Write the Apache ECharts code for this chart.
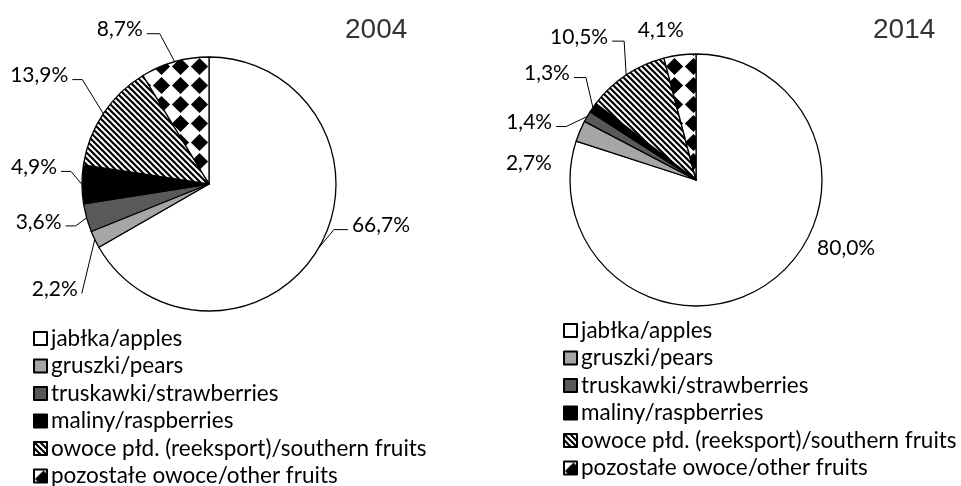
<!DOCTYPE html>
<html>
<head>
<meta charset="utf-8">
<script src="https://cdn.jsdelivr.net/npm/echarts@6/dist/echarts.min.js"></script>
<style>html,body{margin:0;padding:0;background:#fff;}#c{width:961px;height:486px;}</style>
</head>
<body>
<div id="c"></div>
<script>
const categories = ['jabłka/apples', 'gruszki/pears', 'truskawki/strawberries', 'maliny/raspberries', 'owoce płd. (reeksport)/southern fruits', 'pozostałe owoce/other fruits'];
const values2004 = [66.7, 2.2, 3.6, 4.9, 13.9, 8.7];
const values2014 = [80.0, 2.7, 1.4, 1.3, 10.5, 4.1];
const years = ['2004', '2014'];

function stripes() {
  const s = 6, c = document.createElement('canvas');
  c.width = s; c.height = s;
  const g = c.getContext('2d');
  g.fillStyle = '#fff'; g.fillRect(0, 0, s, s);
  g.strokeStyle = '#000'; g.lineWidth = 2.2;
  g.beginPath();
  g.moveTo(-s, 0); g.lineTo(2 * s, 3 * s);
  g.moveTo(0, -s); g.lineTo(2 * s, s);
  g.moveTo(-s, -s); g.lineTo(s, s);
  g.moveTo(-2 * s, -s); g.lineTo(s, 2 * s);
  g.stroke();
  return c;
}
function diamonds() {
  const s = 19, c = document.createElement('canvas');
  c.width = s; c.height = s;
  const g = c.getContext('2d');
  g.fillStyle = '#fff'; g.fillRect(0, 0, s, s);
  g.fillStyle = '#000';
  const h = s / 2, r = 8.6;
  g.beginPath();
  g.moveTo(h, h - r); g.lineTo(h + r, h); g.lineTo(h, h + r); g.lineTo(h - r, h); g.closePath();
  g.fill();
  return c;
}
const fills = ['#ffffff', '#a6a6a6', '#595959', '#000000',
  { image: stripes(), repeat: 'repeat' },
  { image: diamonds(), repeat: 'repeat' }];

// label placement relative to the slice's edge anchor: [align, dx, dy, horizontal leader length]
const labelPlacement = [
  [['left', 33, -22, 14], ['right', -17, 50, 0], ['right', -25, 4, 10], ['right', -25, -17, 10], ['right', -35, -38, 10], ['right', -32, -32, 13]],
  [['left', 47, -34, 0], ['right', -28, 32, 0], ['right', -35, 6, 10], ['right', -23, -34, 12], ['right', -18, -38, 12], ['right', 4, -25, 0]]
];

const labelFont = 'Lato';
function fmt(p) { return p.value.toFixed(1).replace('.', ',') + '%'; }
function makeData(vals, hideLines) {
  return categories.map((n, i) => ({
    name: n, value: vals[i],
    itemStyle: { color: fills[i] },
    labelLine: { show: hideLines.indexOf(i) < 0 }
  }));
}
function layoutLabel(params) {
  const pl = labelPlacement[params.seriesIndex][params.dataIndex];
  const pts = params.labelLinePoints;
  if (!pts || !pts.length) return {};
  const p0 = pts[0];
  const x = p0[0] + pl[1], y = p0[1] + pl[2];
  const out = { x: x, y: y, align: pl[0], verticalAlign: 'middle' };
  if (pl[0] === 'right') {
    const end = [x + 4, y + 4];
    out.labelLinePoints = [p0, [end[0] + pl[3], end[1]], end];
  } else if (pl[0] === 'left') {
    const end = [x - 4, y + 4];
    out.labelLinePoints = [p0, [end[0] - pl[3], end[1]], end];
  }
  return out;
}
function pieSeries(vals, center, radius, hideLines) {
  return {
    type: 'pie',
    center: center,
    radius: radius,
    startAngle: 90,
    clockwise: true,
    animation: false,
    silent: true,
    avoidLabelOverlap: false,
    itemStyle: { borderColor: '#000', borderWidth: 1.3 },
    label: { show: true, position: 'outside', formatter: fmt, color: '#000', fontFamily: labelFont, fontSize: 21, overflow: 'none' },
    labelLine: { show: true, length: 20, length2: 12, lineStyle: { color: '#000', width: 1 } },
    labelLayout: layoutLabel,
    emphasis: { disabled: true },
    data: makeData(vals, hideLines)
  };
}
function legend(left, top) {
  return {
    orient: 'vertical', left: left, top: top, height: 170, padding: 0,
    data: categories, icon: 'rect', itemWidth: 13, itemHeight: 13, itemGap: 4.5,
    selectedMode: false,
    textStyle: { fontFamily: labelFont, fontSize: 22.5, lineHeight: 22.5, color: '#000', padding: [0, 0, 0, -1] }
  };
}
const chart = echarts.init(document.getElementById('c'), null, { renderer: 'canvas' });
chart.setOption({
  backgroundColor: '#fff',
  animation: false,
  title: [
    { text: years[0], left: 340, top: 11, textStyle: { fontFamily: 'Liberation Sans', fontSize: 28, fontWeight: 'normal', color: '#333' } },
    { text: years[1], left: 868, top: 11, textStyle: { fontFamily: 'Liberation Sans', fontSize: 28, fontWeight: 'normal', color: '#333' } }
  ],
  legend: [legend(33, 327), legend(563, 319)],
  series: [
    pieSeries(values2004, [209, 184], 127, []),
    pieSeries(values2014, [696, 180], 126, [0, 1, 5])
  ]
});
</script>
</body>
</html>
